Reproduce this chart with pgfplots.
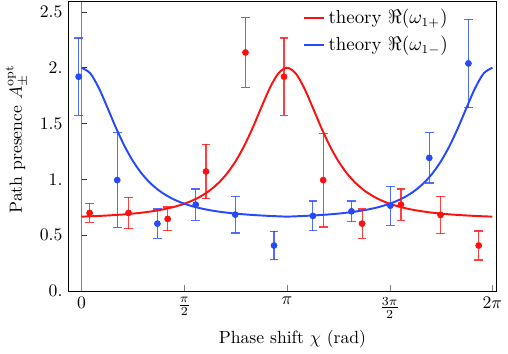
\documentclass[border=0pt]{standalone}
\usepackage{pgfplots}
\pgfplotsset{compat=1.18}
\usepackage{pgfplotstable}
\definecolor{mred}{RGB}{255,16,16}
\definecolor{mblue}{RGB}{38,72,255}

% theory curves (sampled every pi/24)
\pgfplotstableread{
x      red    blue
0.0000 0.6667 2.0000
0.1309 0.6695 1.9510
0.2618 0.6728 1.8202
0.3927 0.6768 1.6456
0.5236 0.6815 1.4644
0.6545 0.6870 1.3006
0.7854 0.6938 1.1636
0.9163 0.7019 1.0543
1.0472 0.7118 0.9690
1.1781 0.7241 0.9031
1.3090 0.7392 0.8522
1.4399 0.7583 0.8129
1.5708 0.7823 0.7823
1.7017 0.8129 0.7583
1.8326 0.8522 0.7392
1.9635 0.9031 0.7241
2.0944 0.9690 0.7118
2.2253 1.0543 0.7019
2.3562 1.1636 0.6938
2.4871 1.3006 0.6870
2.6180 1.4644 0.6815
2.7489 1.6456 0.6768
2.8798 1.8202 0.6728
3.0107 1.9510 0.6695
3.1416 2.0000 0.6667
3.2725 1.9510 0.6695
3.4034 1.8202 0.6728
3.5343 1.6456 0.6768
3.6652 1.4644 0.6815
3.7961 1.3006 0.6870
3.9270 1.1636 0.6938
4.0579 1.0543 0.7019
4.1888 0.9690 0.7118
4.3197 0.9031 0.7241
4.4506 0.8522 0.7392
4.5815 0.8129 0.7583
4.7124 0.7823 0.7823
4.8433 0.7583 0.8129
4.9742 0.7392 0.8522
5.1051 0.7241 0.9031
5.2360 0.7118 0.9690
5.3669 0.7019 1.0543
5.4978 0.6938 1.1636
5.6287 0.6870 1.3006
5.7596 0.6815 1.4644
5.8905 0.6768 1.6456
6.0214 0.6728 1.8202
6.1523 0.6695 1.9510
6.2832 0.6667 2.0000
}\theory

% measured points with errors
\pgfplotstableread{
x      y     e
0.122  0.700 0.085
0.717  0.700 0.140
1.316  0.646 0.107
1.902  1.071 0.245
2.506  2.137 0.310
3.096  1.920 0.347
3.695  0.994 0.420
4.290  0.604 0.131
4.885  0.774 0.140
5.490  0.682 0.168
6.074  0.408 0.130
}\redpts

\pgfplotstableread{
x      y     e
-0.046 1.920 0.347
0.544  0.994 0.424
1.159  0.604 0.131
1.746  0.774 0.140
2.349  0.685 0.165
2.943  0.408 0.127
3.538  0.673 0.133
4.128  0.714 0.093
4.723  0.765 0.174
5.318  1.193 0.225
5.917  2.039 0.396
}\bluepts

\begin{document}
\begin{tikzpicture}
\begin{axis}[
  scale only axis, width=242.4pt, height=163.9pt,
  xmin=-0.198, xmax=6.344, ymin=0, ymax=2.59,
  xtick={0,1.5708,3.1416,4.7124,6.2832},
  xticklabels={$0$,$\frac{\pi}{2}$,$\pi$,$\frac{3\pi}{2}$,$2\pi$},
  ytick={0,0.5,1,1.5,2,2.5},
  yticklabels={0.,0.5,1.,1.5,2.,2.5},
  xtick pos=bottom, tick align=inside, major tick length=3.5pt,
  ytick style={draw=none},
  axis line style={line width=0.6pt},
  xlabel={Phase shift $\chi$ (rad)},
  xlabel style={xshift=5.6pt},
  ylabel={Path presence $A^{\mathrm{opt}}_{\pm}$},
  ylabel style={xshift=4pt},
  legend style={at={(axis description cs:0.535,1)}, anchor=north west,
    draw=none, fill=none, row sep=1.5pt, font=\fontsize{10.7}{12.8}\selectfont},
  legend cell align=left,
  legend image code/.code={\draw[#1,line width=1.1pt] (0pt,0pt) -- (11.3pt,0pt);},
]
\draw[gray,line width=0.5pt] (axis cs:0,0) -- (axis cs:0,2.59);
\pgfplotsinvokeforeach{0.5,1,1.5,2,2.5}{
  \draw[black!80,line width=0.5pt] (axis cs:0,#1) -- ++(3pt,0pt);
}
\addplot[mred, line width=1.1pt, smooth] table[x=x,y=red] {\theory};
\addlegendentry{theory $\Re(\omega_{1+})$}
\addplot[mblue, line width=1.1pt, smooth] table[x=x,y=blue] {\theory};
\addlegendentry{theory $\Re(\omega_{1-})$}

\addplot[forget plot, only marks, mark=*, mark size=1.7pt, mred,
  error bars/.cd, y dir=both, y explicit,
  error bar style={mred, opacity=0.8, line width=0.65pt},
  error mark options={rotate=90, mark size=2.5pt, line width=0.65pt, opacity=0.8}]
  table[x=x,y=y,y error=e] {\redpts};
\addplot[forget plot, only marks, mark=*, mark size=1.7pt, mblue,
  error bars/.cd, y dir=both, y explicit,
  error bar style={mblue, opacity=0.8, line width=0.65pt},
  error mark options={rotate=90, mark size=2.5pt, line width=0.65pt, opacity=0.8}]
  table[x=x,y=y,y error=e] {\bluepts};
\end{axis}
\end{tikzpicture}
\end{document}
